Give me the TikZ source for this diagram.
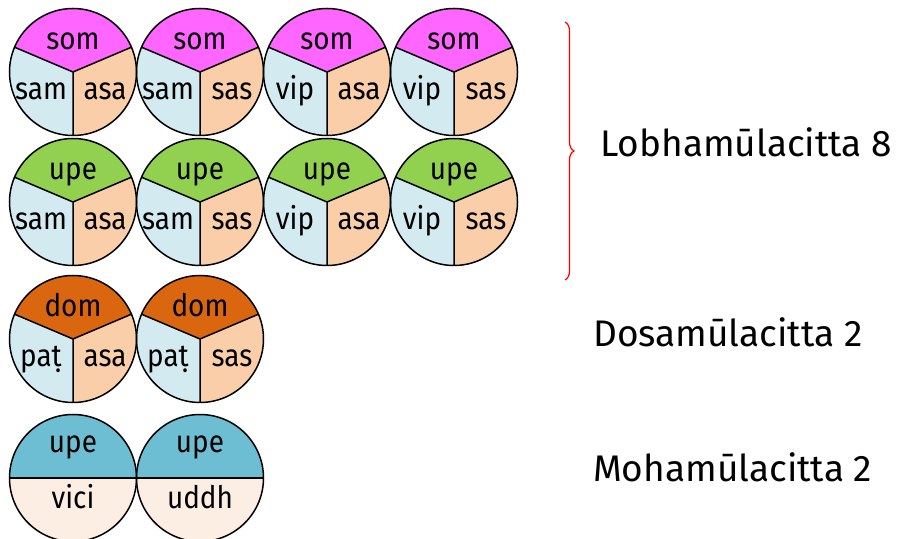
\documentclass[tikz,border=0pt]{standalone}
\usepackage{fontspec}
\setmainfont{Fira Sans}
\newfontfamily\cellfont[FakeStretch=0.9]{Fira Sans}
\usepackage{tikz}
\usetikzlibrary{positioning,backgrounds,decorations.pathreplacing}
\definecolor{lobha}{HTML}{FF66FF}
\definecolor{upekkha}{HTML}{92D050}
\definecolor{dosa}{HTML}{DA670F}
\definecolor{moha}{HTML}{6EBED3}
\definecolor{sideleft}{HTML}{D3EAF0}
\definecolor{sideright}{HTML}{F9CEA8}
\definecolor{lower}{HTML}{FDEEE4}
\tikzstyle{cell} = [circle, draw=black, line width=1.5pt, minimum size=127pt, inner sep=0pt, outer sep=0pt]
\tikzstyle{split} = [line width=1.5pt]
\tikzstyle{lbl} = [font=\cellfont\fontsize{31}{31}\selectfont, anchor=base, inner sep=0pt]
\tikzstyle{total} = [font=\fontsize{37}{37}\selectfont, anchor=base west, inner sep=0pt]
\tikzstyle{bracket} = [draw=red, line width=1.2pt, decorate, decoration={brace, amplitude=9pt}]
% cell with three parts: name, position, colour, top, left, right
\newcommand{\threecell}[6]{%
  \node[cell] (#1) at (#2) {};
  \begin{scope}[on background layer]
    \fill[#3] (#1.center) -- (#1.23) arc[start angle=23, end angle=157, radius=63.5pt] -- cycle;
    \fill[sideleft] (#1.center) -- (#1.157) arc[start angle=157, end angle=270, radius=63.5pt] -- cycle;
    \fill[sideright] (#1.center) -- (#1.270) arc[start angle=270, end angle=383, radius=63.5pt] -- cycle;
  \end{scope}
  \draw[split] (#1.23) -- (#1.center) -- (#1.157) (#1.center) -- (#1.270);
  \node[lbl] (#1-top) at ([yshift=22pt]#1.center) {#4};
  \node[lbl] (#1-left) at ([shift={(-32pt,-28pt)}]#1.center) {#5};
  \node[lbl] (#1-right) at ([shift={(32pt,-28pt)}]#1.center) {#6};
}
% cell with two halves: name, position, top, bottom
\newcommand{\twocell}[4]{%
  \node[cell] (#1) at (#2) {};
  \begin{scope}[on background layer]
    \fill[moha] (#1.east) arc[start angle=0, end angle=180, radius=63.5pt] -- cycle;
    \fill[lower] (#1.west) arc[start angle=180, end angle=360, radius=63.5pt] -- cycle;
  \end{scope}
  \draw[split] (#1.west) -- (#1.east);
  \node[lbl] (#1-top) at ([yshift=25pt]#1.center) {#3};
  \node[lbl] (#1-bottom) at ([yshift=-30pt]#1.center) {#4};
}

\begin{document}
\begin{tikzpicture}[x=1pt, y=1pt]
\useasboundingbox (0,0) rectangle (904,538);

% Lobhamulacitta =============================
\threecell{l1}{73,466}{lobha}{som}{sam}{asa}
\threecell{l2}{200,466}{lobha}{som}{sam}{sas}
\threecell{l3}{327,466}{lobha}{som}{vip}{asa}
\threecell{l4}{454,466}{lobha}{som}{vip}{sas}
\threecell{l5}{73,336}{upekkha}{upe}{sam}{asa}
\threecell{l6}{200,336}{upekkha}{upe}{sam}{sas}
\threecell{l7}{327,336}{upekkha}{upe}{vip}{asa}
\threecell{l8}{454,336}{upekkha}{upe}{vip}{sas}

% Dosamulacitta ==============================
\threecell{d1}{73,199}{dosa}{dom}{paṭ}{asa}
\threecell{d2}{200,199}{dosa}{dom}{paṭ}{sas}

% Mohamulacitta ==============================
\twocell{m1}{73,60}{upe}{vici}
\twocell{m2}{200,60}{upe}{uddh}

% brace and totals
\coordinate (brace-top) at (565,516);
\coordinate (brace-bottom) at (565,258);
\path[bracket] (brace-top) -- (brace-bottom);
\node[total] (lobha-total) at (600,381) {Lobhamūlacitta 8};
\node[total] (dosa-total) at (593,191) {Dosamūlacitta 2};
\node[total] (moha-total) at (593,57) {Mohamūlacitta 2};

\end{tikzpicture}
\end{document}
